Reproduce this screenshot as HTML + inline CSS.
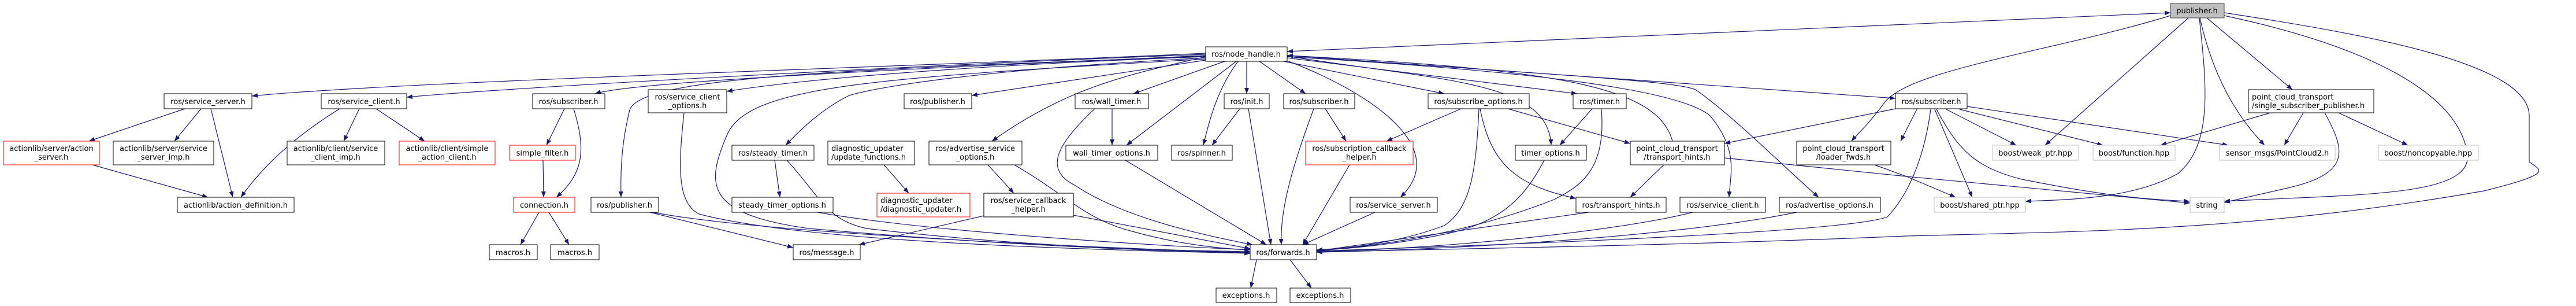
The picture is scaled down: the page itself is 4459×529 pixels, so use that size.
<!DOCTYPE html>
<html><head><meta charset="utf-8"><style>
html,body{margin:0;padding:0;background:#fff;}
svg{display:block;}
text{font-family:"DejaVu Sans","Liberation Sans",sans-serif;font-size:13px;fill:#000;text-anchor:middle;}
.e{fill:none;stroke:#191970;stroke-width:1.2;marker-end:url(#a);}
.b{marker-start:url(#s);}
.n{fill:#fff;stroke:#000;stroke-width:1;}
.r{fill:#fff;stroke:#ff0000;stroke-width:1;}
.g{fill:#fff;stroke:#bfbfbf;stroke-width:1;}
</style></head><body>
<svg width="4459" height="529" viewBox="0 0 4459 529" xmlns="http://www.w3.org/2000/svg">
<defs>
<marker id="a" markerUnits="userSpaceOnUse" markerWidth="11" markerHeight="8" refX="10" refY="4" orient="auto"><path d="M0,0 L10,4 L0,8 z" fill="#191970"/></marker>
<marker id="s" markerUnits="userSpaceOnUse" markerWidth="11" markerHeight="8" refX="10" refY="4" orient="auto-start-reverse"><path d="M0,0 L10,4 L0,8 z" fill="#191970"/></marker>
</defs>

<path class="e b" d="M3757,22 L2228,89"/>
<path class="e" d="M3757,27 C3550,90 3300,120 3260,180 C3230,220 3212,235 3205,244"/>
<path class="e" d="M3788,31 L3540,251"/>
<path class="e" d="M3807,31 C3820,150 3830,250 3770,300 C3700,340 3600,345 3506,348"/>
<path class="e" d="M3808,31 C3830,130 3870,200 3920,251"/>
<path class="e" d="M3820,31 L3968,155"/>
<path class="e" d="M3850,27 C4100,80 4250,160 4270,260 C4290,340 4100,335 3850,348"/>
<path class="e" d="M3850,22 C4100,60 4378,110 4378,200 L4378,280 C4400,295 4420,300 4300,330 C3900,400 3600,400 3300,408 C2900,425 2500,430 2279,436"/>

<path class="e" d="M3930,195 L3740,251"/>
<path class="e" d="M3987,195 L3954,251"/>
<path class="e" d="M4024,195 C4060,260 4070,300 3960,325 L3850,350"/>
<path class="e" d="M4048,195 L4168,251"/>

<path class="e" d="M3281,188 L2985,248"/>
<path class="e" d="M3318,189 L3290,244"/>
<path class="e" d="M3369,189 L3490,251"/>
<path class="e" d="M3392,189 L3640,251"/>
<path class="e" d="M3405,184 L3857,251"/>
<path class="e" d="M3349,189 L3414,341"/>
<path class="e" d="M3352,189 C3390,260 3420,290 3500,310 C3650,340 3720,345 3790,348"/>
<path class="e" d="M3342,189 C3330,280 3300,340 3267,375 C3200,400 2700,420 2279,434"/>
<path class="e" d="M2985,273 L3300,305 L3791,351"/>
<path class="e" d="M3245,285 L3300,305 L3385,341"/>

<path class="e b" d="M2228,96 L3281,170"/>

<path class="e" d="M2087,92 C1600,115 700,140 436,166"/>
<path class="e" d="M2087,94 C1600,112 900,150 704,168"/>
<path class="e" d="M2087,96 C1600,118 1100,140 1030,162"/>
<path class="e" d="M2087,97 C1500,120 1110,130 1090,190 C1075,250 1074,300 1075,341"/>
<path class="e" d="M2087,98 C1700,112 1400,135 1258,158"/>
<path class="e" d="M2087,100 C1700,120 1520,150 1470,165 C1420,190 1385,225 1360,251"/>
<path class="e" d="M2087,102 C1500,135 1300,150 1260,230 C1220,320 1220,370 1400,395 C1800,430 2100,436 2164,437"/>
<path class="e" d="M2087,104 L1682,165"/>
<path class="e" d="M2087,98 C1950,130 1850,150 1717,244"/>
<path class="e" d="M2120,106 L1962,162"/>
<path class="e" d="M2140,106 L1950,251"/>
<path class="e" d="M2143,106 C2110,150 2095,200 2083,251"/>
<path class="e" d="M2158,106 L2158,162"/>
<path class="e" d="M2180,106 L2260,162"/>
<path class="e" d="M2222,106 L2500,162"/>
<path class="e" d="M2225,104 C2350,150 2520,250 2424,341"/>
<path class="e" d="M2228,97 C2500,140 2680,140 2685,251"/>
<path class="e" d="M2228,100 L2730,162"/>
<path class="e" d="M2895,244 C2870,150 2700,120 2228,96"/>
<path class="e" d="M2228,98 C2600,120 2900,150 2960,200 C3010,260 2995,300 2993,341"/>
<path class="e" d="M2228,96 C2700,130 2900,140 2935,155 C3000,200 3100,300 3148,341"/>

<path class="e" d="M320,188 L154,244"/>
<path class="e" d="M348,188 L302,244"/>
<path class="e" d="M365,188 L403,341"/>
<path class="e" d="M160,285 L360,341"/>
<path class="e" d="M588,188 C520,230 460,280 417,341"/>
<path class="e" d="M622,188 L595,244"/>
<path class="e" d="M651,188 L735,244"/>
<path class="e" d="M977,188 L946,251"/>
<path class="e" d="M993,188 C1015,260 1010,300 963,341"/>
<path class="e" d="M940,277 L941,341"/>
<path class="e" d="M933,367 L901,423"/>
<path class="e" d="M950,367 L985,423"/>

<path class="e" d="M1125,367 L1373,428"/>
<path class="e" d="M1130,367 C1300,400 1800,425 2164,437"/>
<path class="e" d="M1184,195 C1175,280 1170,350 1210,370 C1400,420 1900,432 2164,438"/>
<path class="e" d="M1341,277 L1350,341"/>
<path class="e" d="M1362,277 C1420,340 1430,380 1500,395 C1800,430 2050,433 2164,435"/>
<path class="e" d="M1415,367 C1600,400 2000,425 2164,432"/>
<path class="e" d="M1530,285 L1573,334"/>
<path class="e" d="M1710,285 L1755,334"/>
<path class="e" d="M1756,285 C1850,340 1880,380 1960,400 C2050,425 2120,430 2164,432"/>
<path class="e" d="M1703,373 L1487,423"/>
<path class="e" d="M1858,372 L2164,430"/>
<path class="e" d="M1925,188 L1925,251"/>
<path class="e" d="M1895,188 C1840,240 1800,290 1860,320 C1950,380 2100,410 2168,423"/>
<path class="e" d="M1948,277 L2192,423"/>
<path class="e" d="M2146,188 L2098,251"/>
<path class="e" d="M2161,188 L2200,423"/>
<path class="e" d="M2175,449 L2165,498"/>
<path class="e" d="M2233,449 L2270,498"/>

<path class="e" d="M2294,188 L2330,244"/>
<path class="e" d="M2274,188 C2240,280 2215,360 2218,423"/>
<path class="e" d="M2336,285 L2255,423"/>
<path class="e" d="M2529,188 L2400,244"/>
<path class="e" d="M2560,188 C2555,300 2545,360 2500,390 C2420,420 2330,430 2279,432"/>
<path class="e" d="M2562,188 C2580,280 2620,320 2728,343"/>
<path class="e" d="M2610,188 L2822,248"/>
<path class="e" d="M2756,188 L2700,251"/>
<path class="e" d="M2772,188 C2780,290 2740,320 2690,345 C2550,400 2400,425 2279,433"/>
<path class="e" d="M2673,277 C2640,340 2600,385 2500,405 C2400,425 2330,430 2279,433"/>
<path class="e" d="M2380,367 L2255,423"/>
<path class="e" d="M2880,285 L2822,341"/>
<path class="e" d="M2750,367 L2279,434"/>
<path class="e" d="M2930,367 C2800,400 2500,430 2279,435"/>
<path class="e" d="M3110,367 C2900,410 2500,432 2279,436"/>

<rect x="3757" y="6" width="93" height="25" fill="#bfbfbf" stroke="#404040"/><text x="3803" y="23">publisher.h</text>
<rect class="n" x="2087" y="81" width="141" height="25"/><text x="2157" y="98">ros/node_handle.h</text>

<rect class="n" x="284" y="162" width="152" height="26"/><text x="360" y="180">ros/service_server.h</text>
<rect class="n" x="556" y="162" width="148" height="26"/><text x="630" y="180">ros/service_client.h</text>
<rect class="n" x="922" y="162" width="125" height="26"/><text x="984" y="180">ros/subscriber.h</text>
<rect class="n" x="1122" y="155" width="136" height="40"/><text x="1190" y="172">ros/service_client</text><text x="1190" y="187">_options.h</text>
<rect class="n" x="1565" y="162" width="117" height="26"/><text x="1623" y="180">ros/publisher.h</text>
<rect class="n" x="1861" y="162" width="127" height="26"/><text x="1924" y="180">ros/wall_timer.h</text>
<rect class="n" x="2119" y="162" width="78" height="26"/><text x="2158" y="180">ros/init.h</text>
<rect class="n" x="2222" y="162" width="123" height="26"/><text x="2283" y="180">ros/subscriber.h</text>
<rect class="n" x="2472" y="162" width="175" height="26"/><text x="2559" y="180">ros/subscribe_options.h</text>
<rect class="n" x="2723" y="162" width="92" height="26"/><text x="2769" y="180">ros/timer.h</text>
<rect class="n" x="3281" y="162" width="124" height="26"/><text x="3343" y="180">ros/subscriber.h</text>
<rect class="n" x="3892" y="155" width="217" height="40"/><text x="3898" y="172" style="text-anchor:start">point_cloud_transport</text><text x="3898" y="187" style="text-anchor:start">/single_subscriber_publisher.h</text>

<rect class="r" x="6" y="244" width="166" height="41"/><text x="89" y="261">actionlib/server/action</text><text x="89" y="276">_server.h</text>
<rect class="n" x="196" y="244" width="174" height="41"/><text x="283" y="261">actionlib/server/service</text><text x="283" y="276">_server_imp.h</text>
<rect class="n" x="497" y="244" width="169" height="41"/><text x="581" y="261">actionlib/client/service</text><text x="581" y="276">_client_imp.h</text>
<rect class="r" x="691" y="244" width="166" height="41"/><text x="774" y="261">actionlib/client/simple</text><text x="774" y="276">_action_client.h</text>
<rect class="r" x="882" y="251" width="114" height="26"/><text x="939" y="269">simple_filter.h</text>
<rect class="n" x="1267" y="251" width="142" height="26"/><text x="1338" y="269">ros/steady_timer.h</text>
<rect class="n" x="1433" y="244" width="150" height="41"/><text x="1439" y="261" style="text-anchor:start">diagnostic_updater</text><text x="1439" y="276" style="text-anchor:start">/update_functions.h</text>
<rect class="n" x="1608" y="244" width="161" height="41"/><text x="1688" y="261">ros/advertise_service</text><text x="1688" y="276">_options.h</text>
<rect class="n" x="1845" y="251" width="159" height="26"/><text x="1924" y="269">wall_timer_options.h</text>
<rect class="n" x="2028" y="251" width="105" height="26"/><text x="2080" y="269">ros/spinner.h</text>
<rect class="r" x="2260" y="244" width="186" height="41"/><text x="2353" y="261">ros/subscription_callback</text><text x="2353" y="276">_helper.h</text>
<rect class="n" x="2623" y="251" width="123" height="26"/><text x="2684" y="269">timer_options.h</text>
<rect class="n" x="2822" y="244" width="163" height="41"/><text x="2903" y="261">point_cloud_transport</text><text x="2903" y="276">/transport_hints.h</text>
<rect class="n" x="3110" y="244" width="163" height="41"/><text x="3191" y="261">point_cloud_transport</text><text x="3191" y="276">/loader_fwds.h</text>
<rect class="g" x="3449" y="251" width="149" height="26"/><text x="3523" y="269">boost/weak_ptr.hpp</text>
<rect class="g" x="3623" y="251" width="142" height="26"/><text x="3694" y="269">boost/function.hpp</text>
<rect class="g" x="3842" y="251" width="200" height="26"/><text x="3942" y="269">sensor_msgs/PointCloud2.h</text>
<rect class="g" x="4117" y="251" width="173" height="26"/><text x="4203" y="269">boost/noncopyable.hpp</text>

<rect class="n" x="307" y="341" width="202" height="26"/><text x="408" y="359">actionlib/action_definition.h</text>
<rect class="r" x="889" y="341" width="106" height="26"/><text x="942" y="359">connection.h</text>
<rect class="n" x="1023" y="341" width="117" height="26"/><text x="1081" y="359">ros/publisher.h</text>
<rect class="n" x="1267" y="341" width="175" height="26"/><text x="1354" y="359">steady_timer_options.h</text>
<rect class="r" x="1518" y="334" width="161" height="41"/><text x="1524" y="351" style="text-anchor:start">diagnostic_updater</text><text x="1524" y="366" style="text-anchor:start">/diagnostic_updater.h</text>
<rect x="1703" y="334" width="155" height="41" fill="#fff" stroke="#404040" stroke-width="1.5"/><text x="1780" y="351">ros/service_callback</text><text x="1780" y="366">_helper.h</text>
<rect class="n" x="2337" y="341" width="151" height="26"/><text x="2412" y="359">ros/service_server.h</text>
<rect class="n" x="2728" y="341" width="156" height="26"/><text x="2806" y="359">ros/transport_hints.h</text>
<rect class="n" x="2908" y="341" width="148" height="26"/><text x="2982" y="359">ros/service_client.h</text>
<rect class="n" x="3080" y="341" width="175" height="26"/><text x="3167" y="359">ros/advertise_options.h</text>
<rect class="g" x="3348" y="341" width="158" height="26"/><text x="3427" y="359">boost/shared_ptr.hpp</text>
<rect class="g" x="3791" y="341" width="59" height="26"/><text x="3820" y="359">string</text>

<rect class="n" x="847" y="423" width="83" height="26"/><text x="888" y="441">macros.h</text>
<rect class="n" x="953" y="423" width="84" height="26"/><text x="995" y="441">macros.h</text>
<rect class="n" x="1373" y="423" width="116" height="26"/><text x="1431" y="441">ros/message.h</text>
<rect class="n" x="2164" y="423" width="115" height="26"/><text x="2221" y="441">ros/forwards.h</text>

<rect class="n" x="2105" y="498" width="105" height="25"/><text x="2157" y="515">exceptions.h</text>
<rect class="n" x="2233" y="498" width="105" height="25"/><text x="2285" y="515">exceptions.h</text>
</svg>
</body></html>
